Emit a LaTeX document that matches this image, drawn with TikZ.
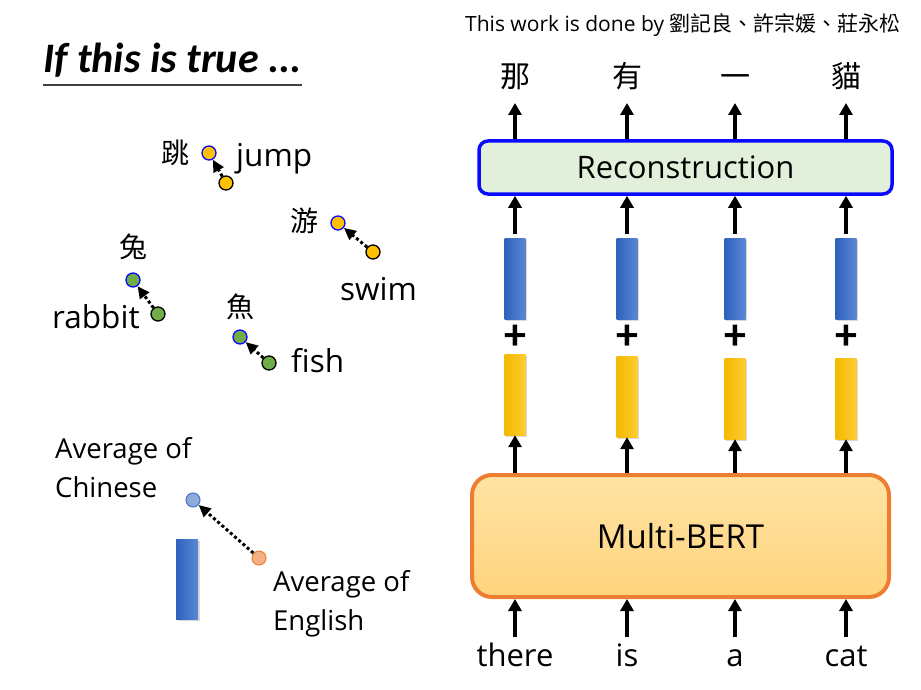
\documentclass[tikz,border=0pt]{standalone}
\usepackage{fontspec}
\setmainfont{Open Sans}
\newfontfamily\titlefont{Carlito}
\newfontfamily\cjk{Noto Sans CJK TC}
\usetikzlibrary{arrows.meta,shadows}
\definecolor{dotyellow}{HTML}{FFC000}
\definecolor{dotgreen}{HTML}{70AD47}
\definecolor{zhblue}{HTML}{0A0AFF}
\definecolor{avgzhfill}{HTML}{8FAADC}
\definecolor{avgzhline}{HTML}{4472C4}
\definecolor{avgenfill}{HTML}{F4B183}
\definecolor{avgenline}{HTML}{ED7D31}
\definecolor{recfill}{HTML}{E2EFDA}
\definecolor{mbtop}{HTML}{FFE3A3}
\definecolor{mbbottom}{HTML}{FFD47E}
\definecolor{mbline}{HTML}{ED7D31}
\definecolor{vecdark}{HTML}{2F61BE}
\definecolor{veclight}{HTML}{5B88D2}
\definecolor{posdark}{HTML}{F2BA00}
\definecolor{poslight}{HTML}{FFCB33}
\definecolor{titlegray}{HTML}{404040}

\begin{document}
\begin{tikzpicture}[x=1pt, y=-1pt,
    dot/.style={circle, draw=black, line width=1.3pt, inner sep=0pt, minimum size=14pt},
    zhdot/.style={dot, draw=zhblue},
    hop/.style={line width=3pt, dash pattern=on 3pt off 2.6pt,
      -{Triangle[length=12pt,width=11pt]}},
    lbl/.style={font=\fontsize{31.5}{36}\selectfont, inner sep=0pt},
    zhlbl/.style={font=\cjk\fontsize{28}{32}\selectfont, inner sep=0pt},
    avg/.style={font=\fontsize{27.5}{39}\selectfont, inner sep=0pt, align=left},
    vec/.style={minimum width=21pt, minimum height=81pt, inner sep=0pt,
      drop shadow={shadow xshift=1.5pt, shadow yshift=-1.5pt, opacity=0.3}},
    bluevec/.style={vec, left color=vecdark, right color=veclight},
    yelvec/.style={vec, left color=posdark, right color=poslight},
    up/.style={line width=3.2pt, -{Triangle[length=12pt,width=13pt]}},
    inword/.style={font=\fontsize{31}{38}\selectfont, inner sep=0pt, text height=29pt, text depth=8pt},
    outword/.style={font=\cjk\fontsize{30}{34}\selectfont, inner sep=0pt, text height=22pt, text depth=15pt},
  ]
  \useasboundingbox (0,0) rectangle (921,690);

  % left: title
  \node[font=\titlefont\bfseries\itshape\fontsize{42}{44}\selectfont, anchor=base west, inner sep=0pt]
    (title) at (43,73) {If this is true ...};
  \draw[titlegray, line width=1.8pt] ([yshift=-12pt]title.base west) -- ([yshift=-12pt]title.base east);

  % word pairs
  \node[zhlbl] (tiao) at (175,153) {跳};
  \node[zhdot, fill=dotyellow] (jumpzh) at (209,153) {};
  \node[dot, fill=dotyellow] (jumpen) at (226,183) {};
  \node[lbl, anchor=base west] (jump) at (236,167) {jump};
  \draw[hop] (jumpen) -- (jumpzh);

  \node[zhlbl] (you) at (304,221) {游};
  \node[zhdot, fill=dotyellow] (swimzh) at (338,223) {};
  \node[dot, fill=dotyellow] (swimen) at (373,252) {};
  \node[lbl, anchor=base west] (swim) at (340,300) {swim};
  \draw[hop] (swimen) -- (swimzh);

  \node[zhlbl] (tu) at (133,247) {兔};
  \node[zhdot, fill=dotgreen] (rabbitzh) at (133,280) {};
  \node[dot, fill=dotgreen] (rabbiten) at (158,314) {};
  \node[lbl, anchor=base west] (rabbit) at (52,328) {rabbit};
  \draw[hop] (rabbiten) -- (rabbitzh);

  \node[zhlbl] (yu) at (240,307) {魚};
  \node[zhdot, fill=dotgreen] (fishzh) at (240,337) {};
  \node[dot, fill=dotgreen] (fishen) at (269,363) {};
  \node[lbl, anchor=base west] (fish) at (291,372) {fish};
  \draw[hop] (fishen) -- (fishzh);

  % averages
  \node[avg, anchor=base west] (avgzhlbl) at (55,497) {Average of\\Chinese};
  \node[avg, anchor=base west] (avgenlbl) at (273,630) {Average of\\English};
  \node[dot, fill=avgzhfill, draw=avgzhline, line width=1pt] (avgzh) at (193,500) {};
  \node[dot, fill=avgenfill, draw=avgenline, line width=1pt] (avgen) at (259,558) {};
  \draw[hop] (avgen) -- (avgzh);
  \node[bluevec, minimum width=22pt, minimum height=80pt] (avgvec) at (187,579) {};

  % right: credit line
  \node[font=\fontsize{21}{24}\selectfont, anchor=base west, inner sep=0pt]
    (credit) at (465,32) {This work is done by {\cjk 劉記良、許宗媛、莊永松}};

  % blocks
  \node[draw=zhblue, line width=3.5pt, fill=recfill, rounded corners=9pt,
    minimum width=413pt, minimum height=53pt, font=\fontsize{31}{38}\selectfont]
    (rec) at (685.5,167.5) {Reconstruction};
  \node[draw=mbline, line width=4pt, top color=mbtop, bottom color=mbbottom, rounded corners=20pt,
    minimum width=417pt, minimum height=122pt, font=\fontsize{33}{40}\selectfont]
    (mb) at (680.5,536) {Multi-BERT};

  % columns
  \foreach \i/\x/\ty/\zh/\en in {1/515/354/那/there, 2/627/356/有/is, 3/735/358/一/a, 4/846/358/貓/cat} {
    \node[outword, anchor=south] (out\i) at (\x,103) {\zh};
    \node[bluevec] (emb\i) at (\x,278.5) {};
    \node[font=\titlefont\bfseries\fontsize{44}{48}\selectfont, inner sep=0pt] (plus\i) at (\x,337) {+};
    \node[yelvec] (pos\i) at (\x,\ty+40.5) {};
    \node[inword, anchor=north] (in\i) at (\x,637) {\en};
    \draw[up] (in\i.north) -- (in\i.north |- mb.south);
    \draw[up] (pos\i.south |- mb.north) -- (pos\i.south);
    \draw[up, shorten <=4pt] (emb\i.north) -- (emb\i.north |- rec.south);
    \draw[up] (out\i.south |- rec.north) -- (out\i.south);
  }
\end{tikzpicture}
\end{document}
